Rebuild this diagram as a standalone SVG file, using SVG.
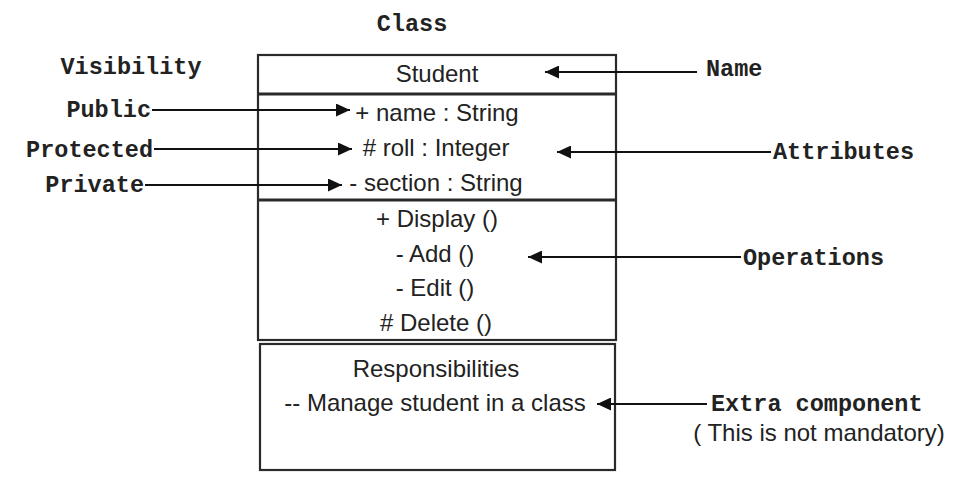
<svg xmlns="http://www.w3.org/2000/svg" width="974" height="494" viewBox="0 0 974 494">
<defs>
<style>
.bg{fill:#ffffff}
.box{fill:none;stroke:#2a2a2a;stroke-width:2.2}
.div{stroke:#2a2a2a;stroke-width:3}
.t{font-family:"Liberation Sans",Arial,sans-serif;font-size:24px;fill:#222;text-anchor:middle}
.m{font-family:"Liberation Mono","Courier New",monospace;font-weight:bold;font-size:23.5px;fill:#222}
.c{stroke:#111;stroke-width:2;fill:none;marker-end:url(#ah)}
</style>
<marker id="ah" markerUnits="userSpaceOnUse" markerWidth="15" markerHeight="13" refX="14" refY="6.5" orient="auto">
<path d="M0,0 L14,6.5 L0,13 Z" fill="#111"/>
</marker>
</defs>
<rect class="bg" x="0" y="0" width="974" height="494"/>
<text class="m" x="412" y="31" text-anchor="middle">Class</text>
<text class="m" x="131" y="74" text-anchor="middle">Visibility</text>
<g id="class-box">
<rect class="box" x="258" y="55" width="358" height="285"/>
<line class="div" x1="258" y1="94" x2="616" y2="94"/>
<line class="div" x1="258" y1="200" x2="616" y2="200"/>
<text class="t" x="437" y="82">Student</text>
<text class="t" x="437" y="121">+ name : String</text>
<text class="t" x="436" y="156">#  roll : Integer</text>
<text class="t" x="436" y="191">- section : String</text>
<text class="t" x="437" y="227">+ Display ()</text>
<text class="t" x="435" y="262">- Add ()</text>
<text class="t" x="435" y="296">- Edit ()</text>
<text class="t" x="436" y="331"># Delete ()</text>
</g>
<g id="responsibilities">
<rect class="box" x="260" y="344" width="355" height="126"/>
<text class="t" x="436" y="377">Responsibilities</text>
<text class="t" x="435" y="411">-- Manage student in a class</text>
</g>
<g id="label-public"><text class="m" x="151" y="117" text-anchor="end">Public</text></g>
<g id="label-protected"><text class="m" x="153" y="157" text-anchor="end">Protected</text></g>
<g id="label-private"><text class="m" x="144" y="192" text-anchor="end">Private</text></g>
<g id="label-name"><text class="m" x="706" y="76">Name</text></g>
<g id="label-attributes"><text class="m" x="773" y="159">Attributes</text></g>
<g id="label-operations"><text class="m" x="743" y="265">Operations</text></g>
<g id="label-extra">
<text class="m" x="711" y="411">Extra component</text>
<text class="t" x="819" y="441">( This is not mandatory)</text>
</g>
<g id="connectors">
<line class="c" x1="152" y1="110" x2="350" y2="110"/>
<line class="c" x1="154" y1="149" x2="352" y2="149"/>
<line class="c" x1="145" y1="185" x2="342" y2="185"/>
<line class="c" x1="697" y1="72" x2="545" y2="72"/>
<line class="c" x1="771" y1="152" x2="557" y2="152"/>
<line class="c" x1="741" y1="257" x2="528" y2="257"/>
<line class="c" x1="707" y1="404" x2="597" y2="404"/>
</g>
</svg>
